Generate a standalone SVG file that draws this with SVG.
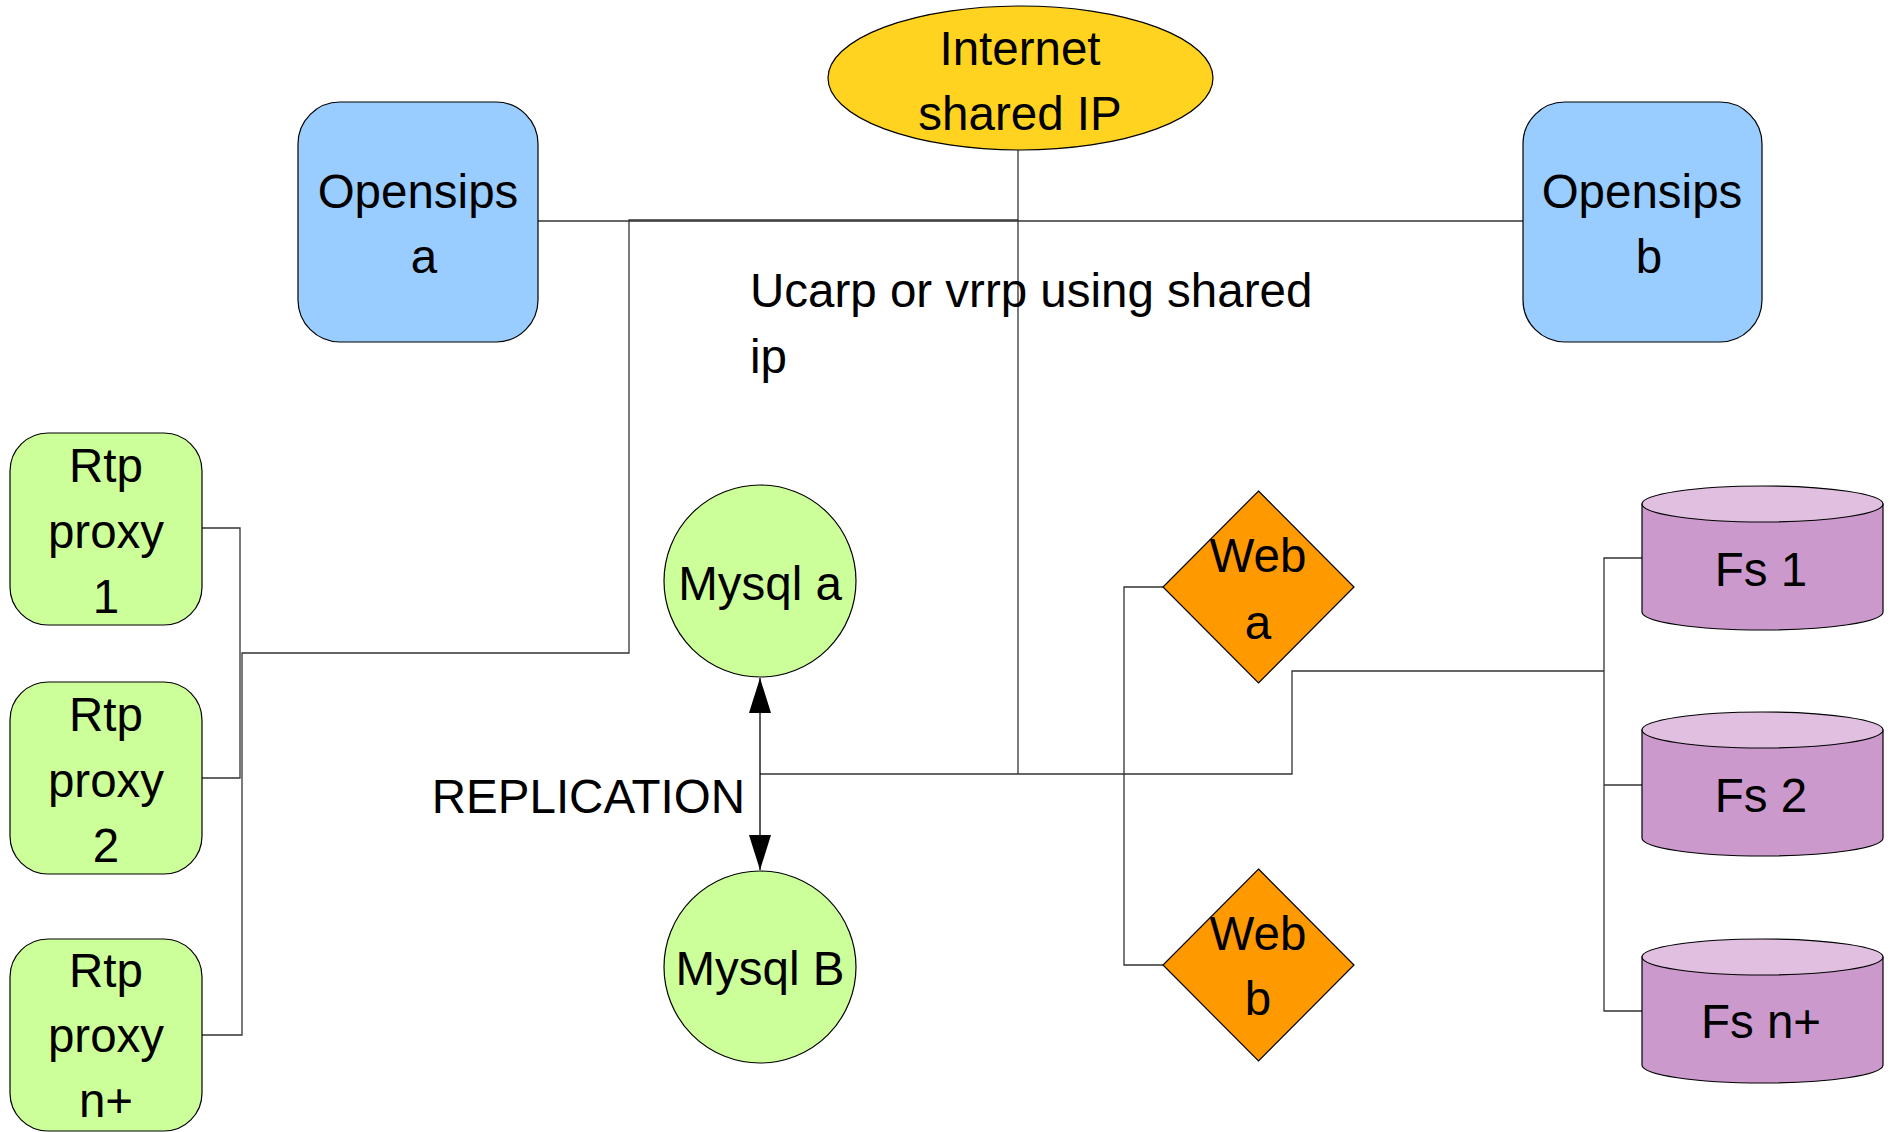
<svg xmlns="http://www.w3.org/2000/svg" width="1890" height="1132" viewBox="0 0 1890 1132">
<style>
text{font-family:"Liberation Sans",Arial,sans-serif;font-size:47.5px;fill:#000}
.c{text-anchor:middle}
.ln{fill:none;stroke:#333;stroke-width:1.3}
.sh{stroke:#000;stroke-width:1.2}
.blue{fill:#99ccff}
.green{fill:#ccff99}
.orange{fill:#ff9900}
.yellow{fill:#ffd320}
.purple{fill:#cc99cc}
.lpurple{fill:#e0bfe0}
</style>
<defs>
<marker id="ah" markerUnits="userSpaceOnUse" markerWidth="36" markerHeight="24" refX="35" refY="11" orient="auto-start-reverse" viewBox="0 0 36 24">
<path d="M0,0 L35,11 L0,22 Z" fill="#000"/>
</marker>
</defs>
<rect width="1890" height="1132" fill="#fff"/>
<g id="connectors">
<polyline class="ln" points="538,221 1523,221"/>
<polyline class="ln" points="1018,150 1018,774"/>
<polyline class="ln" points="202,528 240,528 240,778 202,778"/>
<polyline class="ln" points="202,1035 242,1035 242,653 629,653 629,220 1018,220"/>
<polyline class="ln" points="760,774 1292,774 1292,671 1604,671"/>
<polyline class="ln" points="1163,587 1124,587 1124,965 1163,965"/>
<polyline class="ln" points="1642,558 1604,558 1604,1011 1642,1011"/>
<polyline class="ln" points="1604,785 1642,785"/>
<line x1="760" y1="678" x2="760" y2="870" stroke="#000" stroke-width="1.3" marker-start="url(#ah)" marker-end="url(#ah)"/>
</g>
<g id="internet">
<ellipse class="sh yellow" cx="1020.5" cy="78" rx="192.5" ry="72"/>
<text class="c" x="1020" y="65">Internet</text>
<text class="c" x="1020" y="130">shared IP</text>
</g>
<g id="opensips-a">
<rect class="sh blue" x="298" y="102" width="240" height="240" rx="42" ry="42"/>
<text class="c" x="418" y="208">Opensips</text>
<text class="c" x="424" y="273">a</text>
</g>
<g id="opensips-b">
<rect class="sh blue" x="1523" y="102" width="239" height="240" rx="42" ry="42"/>
<text class="c" x="1642" y="208">Opensips</text>
<text class="c" x="1649" y="273">b</text>
</g>
<g id="note">
<text x="750" y="307">Ucarp or vrrp using shared</text>
<text x="750" y="373">ip</text>
</g>
<g id="rtp1">
<rect class="sh green" x="10" y="433" width="192" height="192" rx="38" ry="38"/>
<text class="c" x="106" y="482">Rtp</text>
<text class="c" x="106" y="548">proxy</text>
<text class="c" x="106" y="613">1</text>
</g>
<g id="rtp2">
<rect class="sh green" x="10" y="682" width="192" height="192" rx="38" ry="38"/>
<text class="c" x="106" y="731">Rtp</text>
<text class="c" x="106" y="797">proxy</text>
<text class="c" x="106" y="862">2</text>
</g>
<g id="rtpn">
<rect class="sh green" x="10" y="939" width="192" height="192" rx="38" ry="38"/>
<text class="c" x="106" y="987">Rtp</text>
<text class="c" x="106" y="1052">proxy</text>
<text class="c" x="106" y="1117">n+</text>
</g>
<g id="mysql-a">
<circle class="sh green" cx="760" cy="581" r="96"/>
<text class="c" x="760" y="600">Mysql a</text>
</g>
<g id="mysql-b">
<circle class="sh green" cx="760" cy="967" r="96"/>
<text class="c" x="760" y="985">Mysql B</text>
</g>
<g id="replication">
<text x="745" y="813" text-anchor="end">REPLICATION</text>
</g>
<g id="web-a">
<polygon class="sh orange" points="1258.5,491 1354,587 1258.5,683 1163,587"/>
<text class="c" x="1258" y="572">Web</text>
<text class="c" x="1258" y="639">a</text>
</g>
<g id="web-b">
<polygon class="sh orange" points="1258.5,869 1354,965 1258.5,1061 1163,965"/>
<text class="c" x="1258" y="950">Web</text>
<text class="c" x="1258" y="1015">b</text>
</g>
<g id="fs1">
<path class="sh purple" d="M1642,504 V612 A120.5,18 0 0 0 1883,612 V504 Z"/>
<ellipse class="sh lpurple" cx="1762.5" cy="504" rx="120.5" ry="18"/>
<text class="c" x="1761" y="586">Fs 1</text>
</g>
<g id="fs2">
<path class="sh purple" d="M1642,730 V838 A120.5,18 0 0 0 1883,838 V730 Z"/>
<ellipse class="sh lpurple" cx="1762.5" cy="730" rx="120.5" ry="18"/>
<text class="c" x="1761" y="812">Fs 2</text>
</g>
<g id="fsn">
<path class="sh purple" d="M1642,957 V1065 A120.5,18 0 0 0 1883,1065 V957 Z"/>
<ellipse class="sh lpurple" cx="1762.5" cy="957" rx="120.5" ry="18"/>
<text class="c" x="1761" y="1038">Fs n+</text>
</g>
</svg>
